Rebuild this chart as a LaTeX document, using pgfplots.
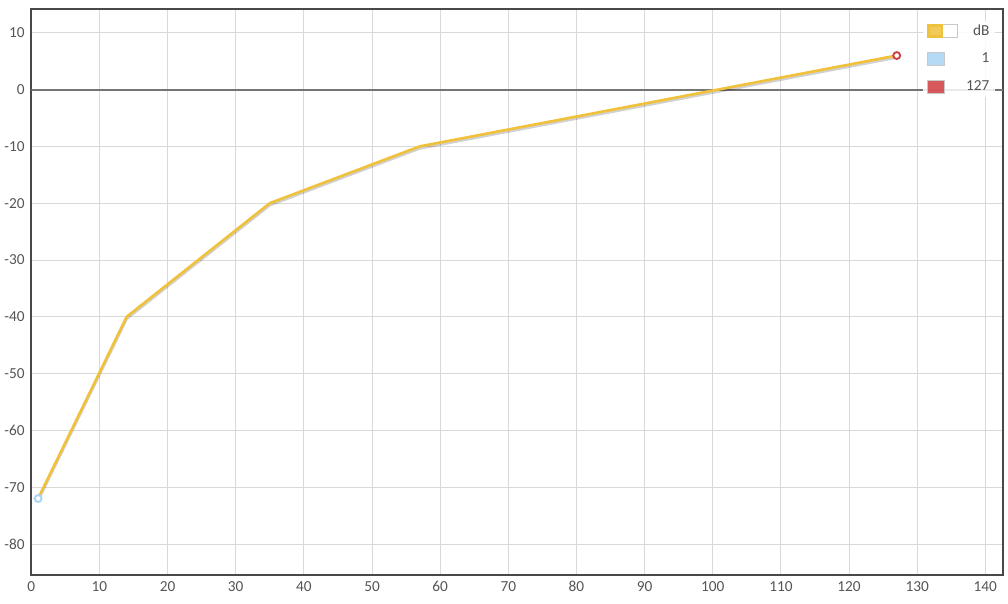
\documentclass[border=0pt]{standalone}
\usepackage{pgfplots}
\pgfplotsset{compat=1.18}
\usepackage{fontspec}
\setmainfont{Carlito}

\definecolor{lineyel}{HTML}{F0C23C}
\definecolor{ptblue}{HTML}{A8D4F4}
\definecolor{ptred}{HTML}{D23C40}
\definecolor{gridgray}{HTML}{D9D9D9}
\definecolor{axisgray}{HTML}{484848}
\definecolor{zerogray}{HTML}{757575}
\definecolor{labelgray}{HTML}{555555}
\definecolor{boxgray}{HTML}{C8C8C8}

\begin{document}
\begin{tikzpicture}
\begin{axis}[
    width=730.5pt, height=425.25pt, scale only axis,
    xmin=0, xmax=142.6, ymin=-85.4, ymax=14.2,
    xtick={0,10,...,140}, ytick={-80,-70,...,10},
    grid=major,
    grid style={draw=gridgray, line width=0.6pt},
    major tick length=0pt,
    axis line style={draw=axisgray, line width=1.5pt},
    tick label style={font=\fontsize{11.5}{12}\selectfont, text=labelgray},
    /pgf/number format/assume math mode=true,
    xticklabel style={yshift=-1.5pt},
    yticklabel style={xshift=-1.5pt},
    legend cell align=right,
    legend style={
        at={(rel axis cs:1,1)}, anchor=north east,
        xshift=-6pt, yshift=-8.5pt,
        draw=none, fill=white, fill opacity=0.85, text opacity=1,
        font=\fontsize{11.5}{12}\selectfont,
        text=labelgray,
        row sep=10pt, column sep=5pt,
        nodes={inner sep=1pt},
    },
]

% zero line
\addplot[zerogray, line width=1.5pt, forget plot] coordinates {(0,0) (142.6,0)};

% shadow under the curve
\addplot[black, opacity=0.18, line width=2pt, yshift=-1.5pt, forget plot]
    coordinates {(1,-72) (14,-40) (35,-20) (57,-10) (127,6)};

\addplot[lineyel, line width=2pt,
    legend image code/.code={
        \draw[boxgray, fill=white, line width=0.6pt] (0pt,-5pt) rectangle (23pt,5pt);
        \fill[lineyel] (0.8pt,-4.2pt) rectangle (11pt,4.2pt);
    }]
    coordinates {(1,-72) (14,-40) (35,-20) (57,-10) (127,6)};
\addlegendentry{dB}

\addplot[only marks, mark=*, mark size=2.6pt,
    mark options={draw=ptblue, fill=white, line width=1.4pt},
    legend image code/.code={
        \draw[boxgray, fill=ptblue, line width=0.6pt] (0pt,-4.9pt) rectangle (12.75pt,4.9pt);
    }]
    coordinates {(1,-72)};
\addlegendentry{1}

\addplot[only marks, mark=*, mark size=2.6pt,
    mark options={draw=ptred, fill=white, line width=1.4pt},
    legend image code/.code={
        \draw[boxgray, fill=ptred, line width=0.6pt] (0pt,-4.9pt) rectangle (12.75pt,4.9pt);
    }]
    coordinates {(127,6)};
\addlegendentry{127}

\end{axis}
\path (current axis.south west) ++(-21.75pt,-21.75pt) coordinate (bbA);
\path (current axis.north east) ++(3.75pt,6.75pt) coordinate (bbB);
\path (bbA) rectangle (bbB);
\end{tikzpicture}
\end{document}
